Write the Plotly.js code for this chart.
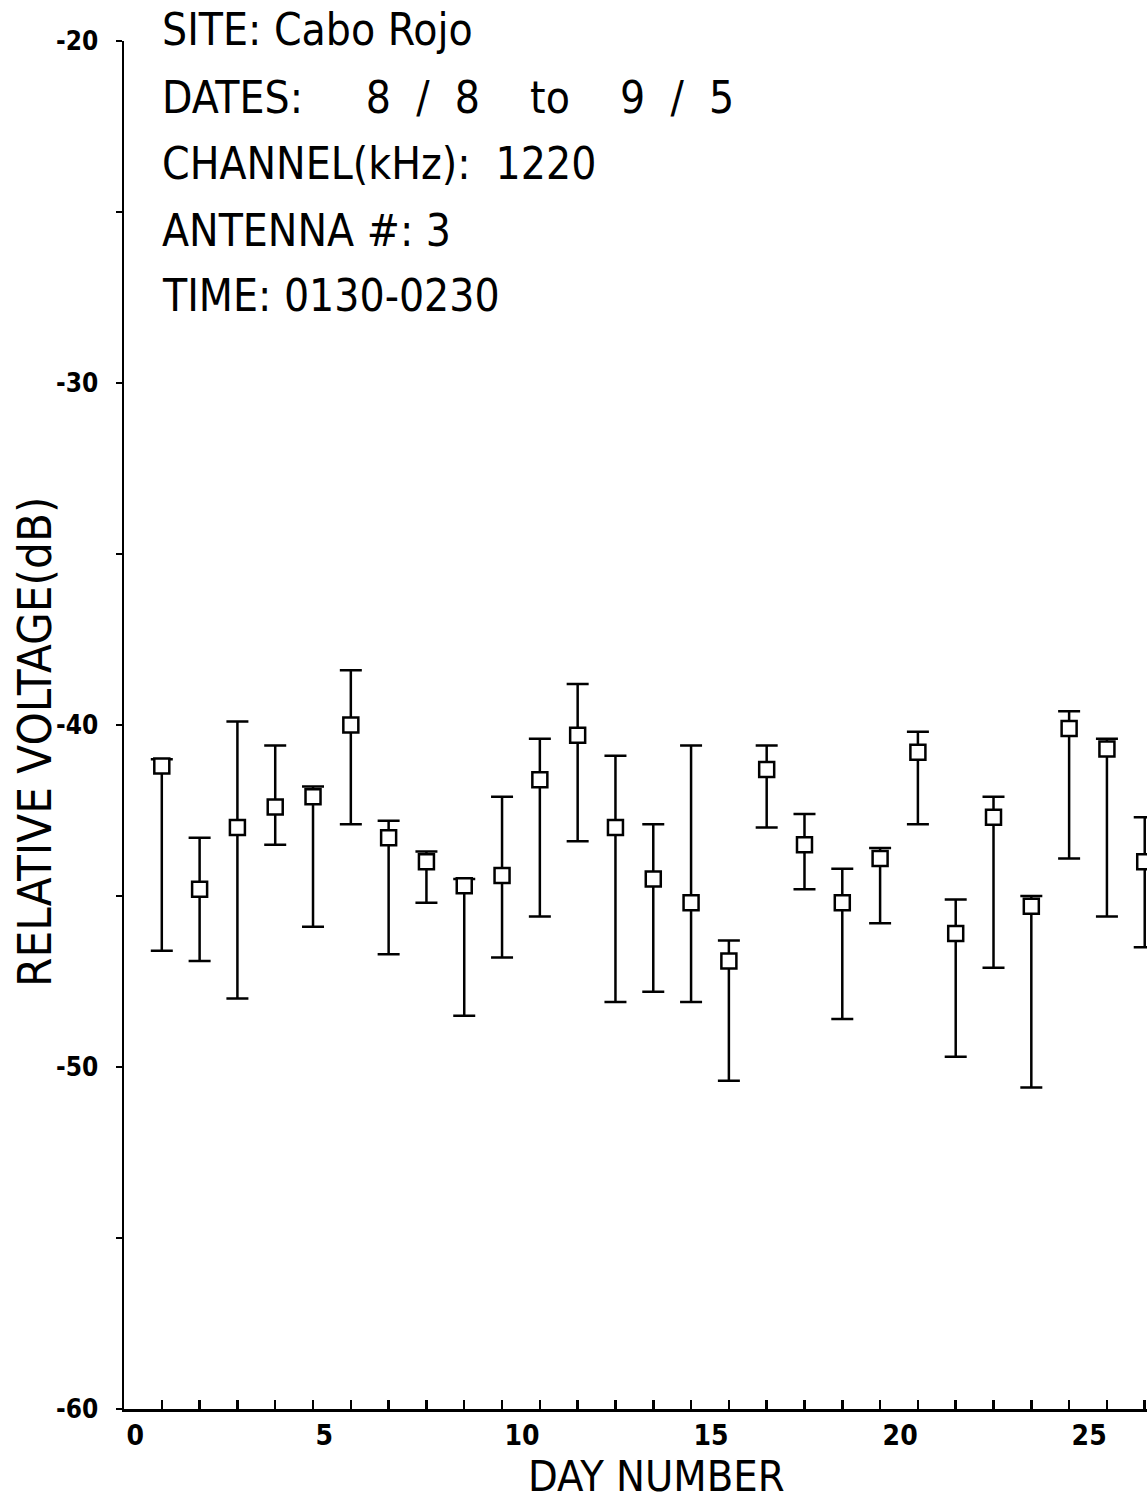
<!DOCTYPE html>
<html>
<head>
<meta charset="utf-8">
<script src="https://cdn.plot.ly/plotly-3.0.1.min.js"></script>
<style>html,body{margin:0;padding:0;background:#fff;}#chart{width:1147px;height:1502px;}</style>
</head>
<body>
<div id="chart"></div>
<script>
// Day numbers
const days = [1,2,3,4,5,6,7,8,9,10,11,12,13,14,15,16,17,18,19,20,21,22,23,24,25,26,27];
// Mean relative voltage (dB)
const meanDb = [-41.2,-44.8,-43.0,-42.4,-42.1,-40.0,-43.3,-44.0,-44.7,-44.4,-41.6,-40.3,-43.0,-44.5,-45.2,-46.9,-41.3,-43.5,-45.2,-43.9,-40.8,-46.1,-42.7,-45.3,-40.1,-40.7,-44.0];
// Upper end of bar (dB)
const highDb = [-41.0,-43.3,-39.9,-40.6,-41.8,-38.4,-42.8,-43.7,-44.5,-42.1,-40.4,-38.8,-40.9,-42.9,-40.6,-46.3,-40.6,-42.6,-44.2,-43.6,-40.2,-45.1,-42.1,-45.0,-39.6,-40.4,-42.7];
// Lower end of bar (dB)
const lowDb = [-46.6,-46.9,-48.0,-43.5,-45.9,-42.9,-46.7,-45.2,-48.5,-46.8,-45.6,-43.4,-48.1,-47.8,-48.1,-50.4,-43.0,-44.8,-48.6,-45.8,-42.9,-49.7,-47.1,-50.6,-43.9,-45.6,-46.5];
// Y tick values and labels
const yTickVals = [-60,-50,-40,-30,-20];
const yTickText = ["-60","-50","-40","-30","-20"];

const NB = "\u00a0";
const headerLines = [
  "SITE: Cabo Rojo",
  "DATES:" + NB.repeat(5) + "8" + NB.repeat(2) + "/" + NB.repeat(2) + "8" + NB.repeat(4) + "to" + NB.repeat(4) + "9" + NB.repeat(2) + "/" + NB.repeat(2) + "5",
  "CHANNEL(kHz):" + NB.repeat(2) + "1220",
  "ANTENNA #: 3",
  "TIME: 0130-0230"
];
const xTitle = "DAY NUMBER";
const yTitle = "RELATIVE VOLTAGE(dB)";

const FONT = "'DejaVu Sans Condensed', 'Liberation Sans Narrow', sans-serif";

const errPlus = highDb.map((h, i) => h - meanDb[i]);
const errMinus = lowDb.map((l, i) => meanDb[i] - l);

const trace = {
  type: 'scatter',
  mode: 'markers',
  x: days,
  y: meanDb,
  marker: {symbol: 'square', size: 15, color: '#ffffff', line: {color: '#000', width: 2.5}},
  error_y: {type: 'data', symmetric: false, array: errPlus, arrayminus: errMinus,
            color: '#000', thickness: 2.5, width: 11},
  cliponaxis: true,
  hoverinfo: 'skip'
};

const headerY = [1.0085, 0.959, 0.9108, 0.8618, 0.8136];
const annotations = headerLines.map((t, i) => ({
  text: t, xref: 'paper', yref: 'paper', x: 0.0352, y: headerY[i],
  xanchor: 'left', yanchor: 'middle', showarrow: false,
  font: {family: FONT, size: 44, color: '#000'}
}));
annotations.push({
  text: xTitle, xref: 'paper', yref: 'paper', x: 0.521, y: -0.049,
  xanchor: 'center', yanchor: 'middle', showarrow: false,
  font: {family: FONT, size: 43, color: '#000'}
});
annotations.push({
  text: yTitle, xref: 'paper', yref: 'paper', x: -0.087, y: 0.4876,
  xanchor: 'center', yanchor: 'middle', textangle: -90, showarrow: false,
  font: {family: FONT, size: 47, color: '#000'}
});

const layout = {
  width: 1147, height: 1502,
  margin: {l: 124, r: 0, t: 41, b: 93, pad: 0},
  paper_bgcolor: '#fff', plot_bgcolor: '#fff',
  showlegend: false,
  xaxis: {
    range: [0, 27.06], dtick: 5, tick0: 0,
    showgrid: false, zeroline: false,
    showline: true, linecolor: '#000', linewidth: 2.5,
    ticks: 'inside', ticklen: 9, tickwidth: 2.5, tickcolor: '#000',
    minor: {dtick: 1, ticks: 'inside', ticklen: 9, tickwidth: 2.5, tickcolor: '#000'},
    ticklabelposition: 'outside right',
    tickfont: {family: FONT, size: 28, color: '#000', weight: 'bold'},
    ticklabelstandoff: 0
  },
  yaxis: {
    range: [-60, -20], tickmode: 'array', tickvals: yTickVals, ticktext: yTickText,
    showgrid: false, zeroline: false,
    showline: true, linecolor: '#000', linewidth: 2.5,
    ticks: 'outside', ticklen: 6, tickwidth: 2.5, tickcolor: '#000',
    minor: {tick0: -60, dtick: 5, ticks: 'outside', ticklen: 6, tickwidth: 2.5, tickcolor: '#000'},
    tickfont: {family: FONT, size: 26, color: '#000', weight: 'bold'},
    ticklabelstandoff: 12
  },
  annotations: annotations
};

Plotly.newPlot('chart', [trace], layout, {staticPlot: true, displayModeBar: false});
</script>
</body>
</html>
